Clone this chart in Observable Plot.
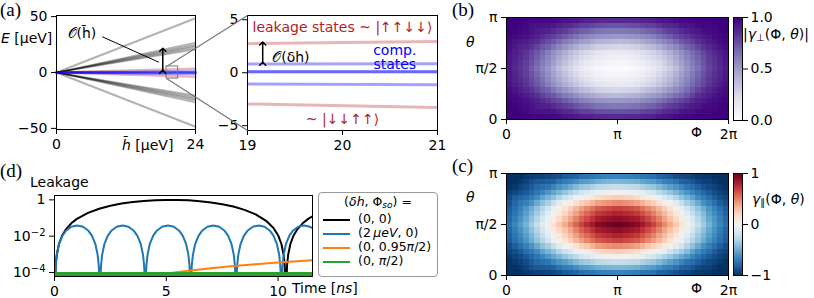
<!DOCTYPE html>
<html><head><meta charset="utf-8">
<script src="https://cdn.jsdelivr.net/npm/d3@7"></script>
<script src="https://cdn.jsdelivr.net/npm/@observablehq/plot@0.6"></script>
<style>
html,body{margin:0;padding:0;background:#fff;}
#fig{position:relative;width:814px;height:298px;overflow:hidden;font-family:"DejaVu Sans",sans-serif;font-size:14px;color:#000;}
.abs{position:absolute;white-space:nowrap;line-height:1;}
.abs svg{display:block;}
.pl{font-family:"Liberation Serif",serif;font-size:19px;}
.it{font-style:italic;}
.leg{font-size:12.5px;}
</style></head><body><div id="fig"></div>
<script>
// ---------------- Panel (a): energy levels ----------------
const hbarPts = [0, 19, 21, 24];
const leakUpper = [0, 2.74, 2.95, 3.30];
const leakLower = [0, -2.95, -3.27, -3.70];
const compUpper = [0, 0.82, 0.84, 0.87];
const compMidA = [0, 0.10, 0.10, 0.10];
const compMidB = [0, 0.10, 0.10, 0.10];
const compLower = [0, -1.07, -1.13, -1.20];
const hbarEnds = [0, 24];
const outerEnds = [48.5, -48.5];
const bundleEnds = [20.5, 21.8, 23.0, 24.2, 25.4, 26.8, -20.5, -21.8, -23.0, -24.2, -25.4, -26.8];
const zoomX = [19, 21];
const zoomE = [-5.45, 5.4];
const leftTicksX = [0, 24], leftTicksY = [-50, 0, 50];
const rightTicksX = [19, 20, 21], rightTicksY = [-5, 0, 5];

// ---------------- Panels (b), (c): maps on (Phi, theta), in units of pi ----------------
const phiPi = [0, 0.1667, 0.3333, 0.5, 0.6667, 0.8333, 1, 1.1667, 1.3333, 1.5, 1.6667, 1.8333, 2];
const thetaPi = [0, 0.1667, 0.3333, 0.5, 0.6667, 0.8333, 1];
const gammaPerp = [
  [1.00,1.00,1.00,0.98,0.95,0.93,0.92,0.93,0.95,0.98,1.00,1.00,1.00],
  [1.00,0.96,0.88,0.77,0.65,0.57,0.55,0.57,0.65,0.77,0.88,0.96,1.00],
  [0.96,0.85,0.67,0.46,0.30,0.19,0.15,0.19,0.30,0.46,0.67,0.85,0.96],
  [0.93,0.80,0.58,0.34,0.15,0.04,0.00,0.04,0.15,0.34,0.58,0.80,0.93],
  [0.96,0.85,0.67,0.46,0.30,0.19,0.15,0.19,0.30,0.46,0.67,0.85,0.96],
  [1.00,0.96,0.88,0.77,0.65,0.57,0.55,0.57,0.65,0.77,0.88,0.96,1.00],
  [1.00,1.00,1.00,0.98,0.95,0.93,0.92,0.93,0.95,0.98,1.00,1.00,1.00]
];
const gammaPar = [
  [-1.00,-1.00,-0.98,-0.92,-0.85,-0.80,-0.77,-0.80,-0.85,-0.92,-0.98,-1.00,-1.00],
  [-0.99,-0.88,-0.69,-0.47,-0.26,-0.12,-0.07,-0.12,-0.26,-0.47,-0.69,-0.88,-0.99],
  [-0.87,-0.62,-0.28,0.08,0.39,0.61,0.68,0.61,0.39,0.08,-0.28,-0.62,-0.87],
  [-0.80,-0.49,-0.09,0.32,0.67,0.92,1.00,0.92,0.67,0.32,-0.09,-0.49,-0.80],
  [-0.87,-0.62,-0.28,0.08,0.39,0.61,0.68,0.61,0.39,0.08,-0.28,-0.62,-0.87],
  [-0.99,-0.88,-0.69,-0.47,-0.26,-0.12,-0.07,-0.12,-0.26,-0.47,-0.69,-0.88,-0.99],
  [-1.00,-1.00,-0.98,-0.92,-0.85,-0.80,-0.77,-0.80,-0.85,-0.92,-0.98,-1.00,-1.00]
];
const mapTicksX = [0, 1, 2], mapTicksY = [0, 0.5, 1];
const perpTicks = [0, 0.5, 1], parTicks = [-1, 0, 1];

// ---------------- Panel (d): leakage vs time ----------------
const blackTime = [0,0.05,0.1,0.2,0.35,0.5,0.75,1,1.5,2,2.5,3,3.5,4,4.5,5,5.5,6,6.5,7,7.5,8,8.5,9,9.5,9.8,10,10.15,10.25,10.3,10.35,10.4,10.45,10.55,10.7,10.85,11.1,11.35,11.54];
const blackLeak = [1e-6,2.3e-4,9.2e-4,3.7e-3,0.0113,0.0227,0.0511,0.0896,0.193,0.325,0.473,0.624,0.763,0.878,0.959,0.997,0.990,0.939,0.847,0.724,0.579,0.428,0.282,0.158,0.0649,0.0276,0.0113,3.7e-3,9.2e-4,2.3e-4,1e-6,2.3e-4,9.2e-4,3.7e-3,0.0113,0.0227,0.0511,0.0896,0.125];
const blueTime = [
  0,0.02,0.05,0.1,0.2,0.35,0.5,0.75,1.015,1.28,1.53,1.68,1.83,1.93,1.98,2.01,
  2.03,2.05,2.08,2.13,2.23,2.38,2.53,2.78,3.045,3.31,3.56,3.71,3.86,3.96,4.01,4.04,
  4.06,4.08,4.11,4.16,4.26,4.41,4.56,4.81,5.075,5.34,5.59,5.74,5.89,5.99,6.04,6.07,
  6.09,6.11,6.14,6.19,6.29,6.44,6.59,6.84,7.105,7.37,7.62,7.77,7.92,8.02,8.07,8.10,
  8.12,8.14,8.17,8.22,8.32,8.47,8.62,8.87,9.135,9.40,9.65,9.80,9.95,10.05,10.10,10.13,
  10.15,10.17,10.20,10.25,10.35,10.50,10.65,10.90,11.165,11.43,11.54];
const blueLeak = [
  1e-6,3.9e-5,2.3e-4,9.3e-4,3.6e-3,0.0104,0.0191,0.0329,0.039,0.0329,0.0191,0.0104,3.6e-3,9.3e-4,2.3e-4,3.9e-5,
  1e-6,3.9e-5,2.3e-4,9.3e-4,3.6e-3,0.0104,0.0191,0.0329,0.039,0.0329,0.0191,0.0104,3.6e-3,9.3e-4,2.3e-4,3.9e-5,
  1e-6,3.9e-5,2.3e-4,9.3e-4,3.6e-3,0.0104,0.0191,0.0329,0.039,0.0329,0.0191,0.0104,3.6e-3,9.3e-4,2.3e-4,3.9e-5,
  1e-6,3.9e-5,2.3e-4,9.3e-4,3.6e-3,0.0104,0.0191,0.0329,0.039,0.0329,0.0191,0.0104,3.6e-3,9.3e-4,2.3e-4,3.9e-5,
  1e-6,3.9e-5,2.3e-4,9.3e-4,3.6e-3,0.0104,0.0191,0.0329,0.039,0.0329,0.0191,0.0104,3.6e-3,9.3e-4,2.3e-4,3.9e-5,
  1e-6,3.9e-5,2.3e-4,9.3e-4,3.6e-3,0.0104,0.0191,0.0329,0.039,0.0329,0.0273];
const orangeTime = [0.5,1,2,3,4,5,6,7,8,9,10,11,11.54];
const orangeLeak = [8.8e-7,3.5e-6,1.4e-5,3.15e-5,5.6e-5,8.75e-5,1.26e-4,1.72e-4,2.24e-4,2.84e-4,3.5e-4,4.24e-4,4.66e-4];
const greenTime = [0, 2, 4, 6, 8, 10, 11.54];
const greenLeak = [8e-5, 8e-5, 8e-5, 8e-5, 8e-5, 8e-5, 8e-5];
const leakTicksX = [0, 5, 10], leakTicksY = [1e-4, 1e-2, 1];
const seriesNames = ["(0, 0)", "(2\u202f<i>\u00b5eV</i>, 0)", "(0, 0.95<i>\u03c0</i>/2)", "(0, <i>\u03c0</i>/2)"];
const seriesColors = ["#000000", "#1f77b4", "#ff7f0e", "#2ca02c"];

// ---------------- helpers ----------------
const fig = document.getElementById("fig");
function place(node, left, top) {
  const d = document.createElement("div"); d.className = "abs";
  d.style.left = left + "px"; d.style.top = top + "px";
  d.appendChild(node); fig.appendChild(d); return node;
}
function label(html, left, top, cls = "", css = "") {
  const d = document.createElement("div"); d.className = "abs " + cls;
  d.style.left = left + "px"; d.style.top = top + "px";
  if (css) d.style.cssText += css;
  d.innerHTML = html; fig.appendChild(d); return d;
}
const baseStyle = {fontFamily: '"DejaVu Sans", sans-serif', fontSize: "14px", color: "black", background: "transparent", overflow: "visible"};
const fmtMinus = d => (d < 0 ? "\u2212" : "") + Math.abs(d);
const fmtPi = d => d === 0 ? "0" : d === 0.5 ? "\u03c0/2" : d === 1 ? "\u03c0" : d === 2 ? "2\u03c0" : String(d);
const TX = {tickSize: 5, tickPadding: 5, label: null};
const TY = {tickSize: 5, tickPadding: 4, label: null};

const curveRows = (vals, id) => vals.map((E, i) => ({h: hbarPts[i], E, id}));
const fanRows = (ends, grp) => ends.flatMap((e, k) => [{h: hbarEnds[0], E: 0, id: grp + k}, {h: hbarEnds[1], E: e, id: grp + k}]);
const leakRows = [...curveRows(leakUpper, "lu"), ...curveRows(leakLower, "ll")];
const compRows = [compUpper, compMidA, compMidB, compLower].flatMap((v, k) => curveRows(v, "c" + k));
function energyMarks(sw, clip) {
  return [
    Plot.line(fanRows(outerEnds, "o"), {x: "h", y: "E", z: "id", stroke: "#000", strokeOpacity: 0.3, strokeWidth: 2, clip}),
    Plot.line(fanRows(bundleEnds, "b"), {x: "h", y: "E", z: "id", stroke: "#000", strokeOpacity: 0.3, strokeWidth: 1.5, clip}),
    Plot.line(leakRows, {x: "h", y: "E", z: "id", stroke: "firebrick", strokeOpacity: 0.33, strokeWidth: sw, clip}),
    Plot.line(compRows, {x: "h", y: "E", z: "id", stroke: "blue", strokeOpacity: 0.36, strokeWidth: sw, clip})
  ];
}

// ---------------- (a) left ----------------
const AL = {left: 0, top: 0};
const plotAL = Plot.plot({
  width: 230, height: 160, marginLeft: 56, marginRight: 35, marginTop: 15, marginBottom: 31,
  style: baseStyle,
  x: {domain: [0, 24]}, y: {domain: [-51, 51]},
  marks: [
    ...energyMarks(2.5, false),
    Plot.rect([zoomX], {x1: d => d[0], x2: d => d[1], y1: zoomE[0], y2: zoomE[1], fill: "none", stroke: "#777", strokeWidth: 1}),
    Plot.link([0], {x1: 17.66, y1: 9.2, x2: 7.9, y2: 32, stroke: "black", strokeWidth: 1}),
    Plot.link([0], {x1: 18.35, y1: 0.6, x2: 18.35, y2: 20.3, stroke: "black", strokeWidth: 1.5, markerStart: "arrow", markerEnd: "arrow"}),
    Plot.text(["\ud835\udcaa(h\u0304)"], {x: 1.9, y: 34.5, text: d => d, textAnchor: "start", fontSize: 14}),
    Plot.frame({stroke: "black"}),
    Plot.axisX({...TX, ticks: leftTicksX, tickFormat: fmtMinus}),
    Plot.axisY({...TY, ticks: leftTicksY, tickFormat: fmtMinus})
  ]
});
place(plotAL, AL.left, AL.top);
label('<i>E</i> [\u00b5eV]', 1, 31);
label('<i>h\u0304</i> [\u00b5eV]', 122, 138);

// ---------------- (a) right ----------------
const AR = {left: 220, top: 0};
const plotAR = Plot.plot({
  width: 240, height: 160, marginLeft: 27, marginRight: 23, marginTop: 15, marginBottom: 30,
  style: baseStyle,
  x: {domain: zoomX}, y: {domain: zoomE},
  marks: [
    ...energyMarks(3, true),
    Plot.text(["leakage states ~ |\u2191\u2191\u2193\u2193\u27e9"], {x: 20, y: 4.25, text: d => d, fill: "firebrick", fontSize: 14}),
    Plot.text(["~ |\u2193\u2193\u2191\u2191\u27e9"], {x: 20, y: -4.4, text: d => d, fill: "firebrick", fontSize: 14}),
    Plot.text(["comp.\nstates"], {x: 20.55, y: 1.45, text: d => d, fill: "blue", fontSize: 14, lineHeight: 1.05}),
    Plot.link([0], {x1: 19.16, y1: 0.85, x2: 19.16, y2: 2.75, stroke: "black", strokeWidth: 1.5, markerStart: "arrow", markerEnd: "arrow"}),
    Plot.text(["\ud835\udcaa(\u03b4h)"], {x: 19.26, y: 1.4, text: d => d, textAnchor: "start", fontSize: 14}),
    Plot.frame({stroke: "black"}),
    Plot.axisX({...TX, ticks: rightTicksX, tickFormat: fmtMinus}),
    Plot.axisY({...TY, ticks: rightTicksY, tickFormat: fmtMinus})
  ]
});
place(plotAR, AR.left, AR.top);

// zoom connectors, positioned from both plots' scales
const sxL = plotAL.scale("x"), syL = plotAL.scale("y"), sxR = plotAR.scale("x"), syR = plotAR.scale("y");
const connectors = [zoomE[1], zoomE[0]].map(e => ({
  x1: AL.left + sxL.apply(zoomX[0]), y1: AL.top + syL.apply(e),
  x2: AR.left + sxR.apply(zoomX[0]), y2: AR.top + syR.apply(e)
}));
const overlay = Plot.plot({
  width: 814, height: 298, margin: 0, style: {background: "transparent"},
  x: {type: "identity", axis: null}, y: {type: "identity", axis: null},
  marks: [Plot.link(connectors, {x1: "x1", y1: "y1", x2: "x2", y2: "y2", stroke: "#777", strokeWidth: 1.2})]
});
const ov = place(overlay, 0, 0); ov.parentNode.style.pointerEvents = "none";

label("(a)", 0, 0, "pl");

// ---------------- (b) and (c) maps ----------------
const cells = grid => grid.flatMap((row, j) => row.map((v, i) => ({phi: phiPi[i], theta: thetaPi[j], v})));
function mapPlot(grid, color, top, height, mb) {
  return Plot.plot({
    width: 290, height, marginLeft: 56, marginRight: 12, marginTop: 17, marginBottom: mb,
    style: baseStyle,
    x: {domain: [0, 2]}, y: {domain: [0, 1]}, color,
    marks: [
      Plot.raster(cells(grid), {x: "phi", y: "theta", fill: "v", x1: 0, x2: 2, y1: 0, y2: 1, interpolate: "barycentric", pixelSize: 5.5, imageRendering: "pixelated"}),
      Plot.frame({stroke: "black"}),
      Plot.axisX({...TX, ticks: mapTicksX, tickFormat: fmtPi}),
      Plot.axisY({...TY, ticks: mapTicksY, tickFormat: fmtPi})
    ]
  });
}
function colorbar(color, domain, ticks, fmt, height, mb) {
  return Plot.plot({
    width: 81, height, marginLeft: 0, marginRight: 72, marginTop: 17, marginBottom: mb,
    style: baseStyle,
    x: {domain: [0, 1], axis: null}, y: {domain}, color,
    marks: [
      Plot.raster({fill: (x, y) => y, x1: 0, x2: 1, y1: domain[0], y2: domain[1], pixelSize: 1}),
      Plot.frame({stroke: "black"}),
      Plot.axisY({anchor: "right", tickSize: 5, tickPadding: 3, label: null, ticks, tickFormat: fmt})
    ]
  });
}
const colorB = {type: "linear", scheme: "purples", domain: [0, 1]};
const colorC = {type: "linear", scheme: "rdbu", reverse: true, domain: [-1, 1]};
place(mapPlot(gammaPerp, colorB, 0, 150, 31), 450, 0);
place(colorbar(colorB, [0, 1], perpTicks, d => d.toFixed(1), 150, 30), 733, 0);
place(mapPlot(gammaPar, colorC, 156, 142, 23), 450, 156);
place(colorbar(colorC, [-1, 1], parTicks, fmtMinus, 142, 23), 733, 156);

label("(b)", 452, 0, "pl");
label("<i>\u03b8</i>", 466, 35);
label("\u03a6", 691, 125);
label("|<i>\u03b3</i><sub style='font-size:10px;vertical-align:-2px'>\u22a5</sub>(\u03a6, <i>\u03b8</i>)|", 743, 27);
label("(c)", 452, 156, "pl");
label("<i>\u03b8</i>", 466, 190);
label("\u03a6", 691, 281);
label("<i>\u03b3</i><sub style='font-size:10px;vertical-align:-2px'>\u2225</sub>(\u03a6, <i>\u03b8</i>)", 752, 192);

// ---------------- (d) leakage ----------------
const rows = (t, v) => t.map((x, i) => ({t: x, L: v[i]}));
const plotD = Plot.plot({
  width: 320, height: 148, marginLeft: 54, marginRight: 8, marginTop: 45, marginBottom: 22,
  style: baseStyle,
  x: {domain: [0, 11.54]}, y: {type: "log", domain: [6.0e-5, 1.74]},
  marks: [
    Plot.line(rows(blackTime, blackLeak), {x: "t", y: "L", stroke: seriesColors[0], strokeWidth: 2, clip: true}),
    Plot.line(rows(blueTime, blueLeak), {x: "t", y: "L", stroke: seriesColors[1], strokeWidth: 2, clip: true}),
    Plot.line(rows(orangeTime, orangeLeak), {x: "t", y: "L", stroke: seriesColors[2], strokeWidth: 2, clip: true}),
    Plot.line(rows(greenTime, greenLeak), {x: "t", y: "L", stroke: seriesColors[3], strokeWidth: 4.5, clip: true}),
    Plot.frame({stroke: "black"}),
    Plot.axisX({...TX, ticks: leakTicksX}),
    Plot.axisY({...TY, ticks: leakTicksY, tickFormat: d => d === 1 ? "1" : "10^\u2212" + Math.round(-Math.log10(d))})
  ]
});
plotD.querySelectorAll('g[aria-label="y-axis tick label"] text').forEach(t => {
  const m = /^10\^(.+)$/.exec(t.textContent);
  if (m) {
    t.textContent = "10";
    const ts = document.createElementNS("http://www.w3.org/2000/svg", "tspan");
    ts.setAttribute("dy", "-0.45em"); ts.setAttribute("font-size", "10");
    ts.textContent = m[1]; t.appendChild(ts);
  }
});
place(plotD, 0, 150);
label("(d)", 0, 161, "pl");
label("Leakage", 30, 175);
label("Time [<i>ns</i>]", 292, 281);

// legend
label("", 318, 192, "", "width:120px;height:85px;border:1px solid #999;border-radius:4px;box-sizing:border-box;background:#fff;");
label("(<i>\u03b4h</i>, \u03a6<sub style='font-size:9px;vertical-align:-2px'><i>so</i></sub>) =", 318, 196, "leg", "width:120px;text-align:center;");
const legY = [220, 234, 248, 262];
seriesNames.forEach((name, i) => {
  label("", 323, legY[i] - 1, "", `width:27px;height:2px;background:${seriesColors[i]};`);
  label(name, 358, legY[i] - 7, "leg");
});
</script></body></html>
